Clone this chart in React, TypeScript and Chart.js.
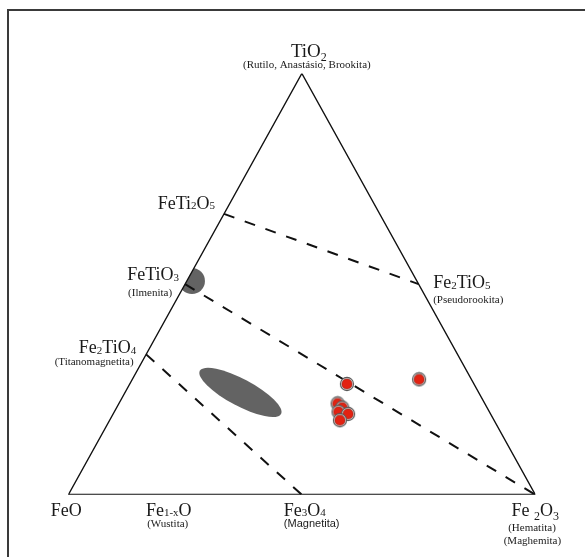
import React, { useEffect, useRef } from "react";
import { Chart, registerables } from "chart.js";
Chart.register(...registerables);

// ---- DATA ----
// Sample analyses in mol % (FeO = 100 - Fe2O3 - TiO2)
const sampleTiO2 = [26.3, 27.4, 21.7, 20.7, 19.7, 19.2, 17.7];
const sampleFe2O3 = [46.5, 61.4, 46.8, 48.3, 48.0, 50.3, 49.3];

// Phase compositions (mol % Fe2O3, mol % TiO2)
const phaseNames = ["TiO2", "FeTi2O5", "FeTiO3", "Fe2TiO4", "FeO", "Fe1-xO", "Fe3O4", "Fe2O3", "Fe2TiO5"];
const phaseFe2O3 = [0, 0, 0, 0, 0, 21.5, 50, 100, 50];
const phaseTiO2 = [100, 66.67, 50, 33.33, 0, 0, 0, 0, 50];

// Dashed tie lines between phases
const tieFrom = ["FeTi2O5", "FeTiO3", "Fe2TiO4"];
const tieTo = ["Fe2TiO5", "Fe2O3", "Fe3O4"];

// Label texts and the phase each one belongs to
const labelTexts = [
  "TiO_{2}", "(Rutilo, Anastásio, Brookita)",
  "FeTi_{2}O_{5}",
  "FeTiO_{3}", "(Ilmenita)",
  "Fe_{2}TiO_{4}", "(Titanomagnetita)",
  "Fe_{2}TiO_{5}", "(Pseudorookita)",
  "FeO",
  "Fe_{1-x}O", "(Wustita)",
  "Fe_{3}O_{4}", "(Magnetita)",
  "Fe _{2}O_{3}", "(Hematita)", "(Maghemita)",
];
const labelPhases = [
  "TiO2", "TiO2", "FeTi2O5", "FeTiO3", "FeTiO3", "Fe2TiO4", "Fe2TiO4",
  "Fe2TiO5", "Fe2TiO5", "FeO", "Fe1-xO", "Fe1-xO", "Fe3O4", "Fe3O4",
  "Fe2O3", "Fe2O3", "Fe2O3",
];

// Stability fields (compositions, mol %)
const fieldFe2O3 = [1.1, 24.7];
const fieldTiO2 = [50.75, 24.3];

// ---- LAYOUT / STYLE ----
const SERIF = '"Liberation Serif", "Times New Roman", serif';
const SANS = '"Liberation Sans", Arial, sans-serif';
type LL = { dx: number; dy: number; size: number; sub?: number; subDy?: number; align: CanvasTextAlign; font?: string };
const LABEL_LAYOUT: LL[] = [
  { dx: 7, dy: -17, size: 19, sub: 12, subDy: 4, align: "center" },
  { dx: 5, dy: -6, size: 11, align: "center" },
  { dx: -9, dy: -5, size: 18, sub: 11, subDy: 0.5, align: "right" },
  { dx: -6, dy: -4, size: 18, sub: 11, subDy: 0.5, align: "right" },
  { dx: -35, dy: 12, size: 11, align: "center" },
  { dx: -10, dy: -1, size: 18, sub: 11, subDy: 0.5, align: "right" },
  { dx: -52, dy: 11, size: 11, align: "center" },
  { dx: 14.5, dy: 4.3, size: 18, sub: 11, subDy: 0.5, align: "left" },
  { dx: 14.5, dy: 18.5, size: 11, align: "left" },
  { dx: -2, dy: 21, size: 18, align: "center" },
  { dx: 0, dy: 21, size: 18, sub: 11, subDy: 0.5, align: "center" },
  { dx: -1, dy: 32, size: 11, align: "center" },
  { dx: -18, dy: 21, size: 18, sub: 11, subDy: 0.5, align: "left" },
  { dx: -18, dy: 32, size: 11, align: "left", font: SANS },
  { dx: -24, dy: 21, size: 18, sub: 12, subDy: 4, align: "left" },
  { dx: -3.4, dy: 36, size: 11, align: "center" },
  { dx: -3, dy: 49, size: 11, align: "center" },
];
const FIELD_SHAPES = [
  { r: 13, ry: 13, rot: 0 },
  { r: 46, ry: 13.5, rot: 28 },
];

const toXY = (fe2o3: number, tio2: number) => ({ x: fe2o3 / 100 + tio2 / 200, y: tio2 / 100 });
const phaseXY = (name: string) => {
  const i = phaseNames.indexOf(name);
  return toXY(phaseFe2O3[i], phaseTiO2[i]);
};

function parseRich(s: string) {
  const segs: { t: string; sub: boolean }[] = [];
  let buf = "";
  let i = 0;
  while (i < s.length) {
    if (s[i] === "_" && s[i + 1] === "{") {
      if (buf) { segs.push({ t: buf, sub: false }); buf = ""; }
      const j = s.indexOf("}", i);
      segs.push({ t: s.slice(i + 2, j), sub: true });
      i = j + 1;
    } else { buf += s[i]; i++; }
  }
  if (buf) segs.push({ t: buf, sub: false });
  return segs;
}

function makePointImage() {
  const c = document.createElement("canvas");
  c.width = 16; c.height = 16;
  const g = c.getContext("2d")!;
  g.beginPath(); g.arc(8, 8, 6.6, 0, Math.PI * 2);
  g.fillStyle = "#e6e6e6"; g.fill();
  g.lineWidth = 1.1; g.strokeStyle = "#5a5a5a"; g.stroke();
  g.beginPath(); g.arc(8, 8, 5.1, 0, Math.PI * 2);
  g.fillStyle = "#e32212"; g.fill();
  g.lineWidth = 0.6; g.strokeStyle = "#8c1a10"; g.stroke();
  return c;
}

export default function App() {
  const ref = useRef<HTMLCanvasElement>(null);
  useEffect(() => {
    if (!ref.current) return;
    const pointImg = makePointImage();
    const px = (chart: any, p: { x: number; y: number }) => ({
      x: chart.scales.x.getPixelForValue(p.x),
      y: chart.scales.y.getPixelForValue(p.y),
    });
    const triPath = (chart: any, ctx: CanvasRenderingContext2D) => {
      const a = px(chart, phaseXY("FeO"));
      const b = px(chart, phaseXY("TiO2"));
      const c = px(chart, phaseXY("Fe2O3"));
      ctx.beginPath(); ctx.moveTo(a.x, a.y); ctx.lineTo(b.x, b.y); ctx.lineTo(c.x, c.y); ctx.closePath();
    };
    const decor = {
      id: "ternaryDecor",
      beforeDraw(chart: any) {
        const ctx = chart.ctx as CanvasRenderingContext2D;
        ctx.save();
        ctx.fillStyle = "#fff";
        ctx.fillRect(0, 0, chart.width, chart.height);
        ctx.fillStyle = "#3a3a3a";
        ctx.fillRect(7, 9, chart.width, 2);
        ctx.fillRect(7, 9, 2, chart.height);
        ctx.restore();
      },
      beforeDatasetsDraw(chart: any) {
        const ctx = chart.ctx as CanvasRenderingContext2D;
        ctx.save();
        triPath(chart, ctx);
        ctx.clip();
        ctx.fillStyle = "#636363";
        fieldFe2O3.forEach((f, i) => {
          const c = px(chart, toXY(f, fieldTiO2[i]));
          const s = FIELD_SHAPES[i];
          ctx.beginPath();
          ctx.ellipse(c.x, c.y, s.r, s.ry, (s.rot * Math.PI) / 180, 0, Math.PI * 2);
          ctx.fill();
        });
        ctx.restore();
      },
      afterDraw(chart: any) {
        const ctx = chart.ctx as CanvasRenderingContext2D;
        ctx.save();
        ctx.fillStyle = "#1a1a1a";
        ctx.textBaseline = "alphabetic";
        labelTexts.forEach((txt, i) => {
          const L = LABEL_LAYOUT[i];
          const a = px(chart, phaseXY(labelPhases[i]));
          const fam = L.font || SERIF;
          const segs = parseRich(txt);
          const fontFor = (sub: boolean) => `${sub ? L.sub || L.size : L.size}px ${fam}`;
          let total = 0;
          const widths = segs.map((s) => {
            ctx.font = fontFor(s.sub);
            const w = ctx.measureText(s.t).width;
            total += w;
            return w;
          });
          let x = a.x + L.dx;
          if (L.align === "center") x -= total / 2;
          else if (L.align === "right") x -= total;
          const y = a.y + L.dy;
          ctx.textAlign = "left";
          segs.forEach((s, k) => {
            ctx.font = fontFor(s.sub);
            ctx.fillText(s.t, x, y + (s.sub ? L.subDy || 0 : 0));
            x += widths[k];
          });
        });
        ctx.restore();
      },
    };

    const samples = sampleTiO2.map((t, i) => toXY(sampleFe2O3[i], t));
    const lineDs = (data: any[], width: number, dash: number[] = []) => ({
      data,
      showLine: true,
      borderColor: "#111",
      borderWidth: width,
      borderDash: dash,
      pointRadius: 0,
      fill: false,
      tension: 0,
    });
    const chart = new Chart(ref.current, {
      type: "scatter",
      data: {
        datasets: [
          { data: samples, pointStyle: pointImg as any, pointRadius: 7, showLine: false } as any,
          lineDs([phaseXY("FeO"), phaseXY("TiO2"), phaseXY("Fe2O3")], 1.4),
          lineDs([phaseXY("FeO"), phaseXY("Fe2O3")], 2),
          ...tieFrom.map((f, i) => lineDs([phaseXY(f), phaseXY(tieTo[i])], 2, [11, 11])),
        ],
      },
      options: {
        animation: false,
        responsive: false,
        events: [],
        layout: { padding: { left: 68.3, right: 49.6, top: 73.5, bottom: 62.2 } },
        scales: {
          x: { type: "linear", min: 0, max: 1, display: false },
          y: { type: "linear", min: 0, max: 1, display: false },
        },
        plugins: { legend: { display: false }, tooltip: { enabled: false } },
      },
      plugins: [decor],
    });
    return () => chart.destroy();
  }, []);
  return (
    <div style={{ position: "fixed", left: 0, top: 0, width: 585, height: 557, background: "#fff" }}>
      <canvas ref={ref} width={585} height={557} style={{ display: "block" }} />
    </div>
  );
}
